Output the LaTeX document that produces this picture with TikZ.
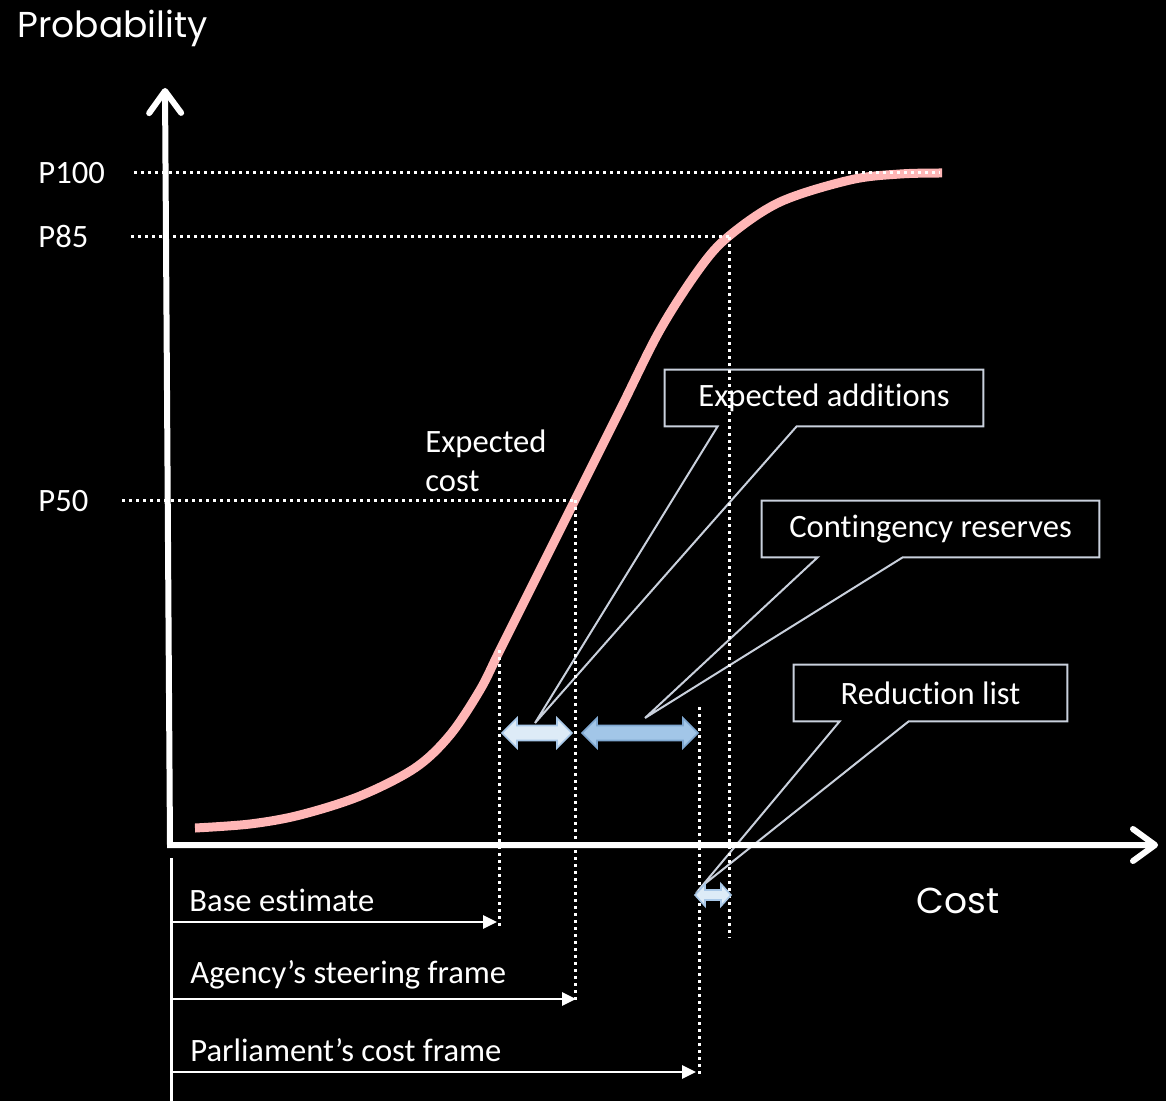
\documentclass[tikz,border=0pt]{standalone}
\usepackage{fontspec}
\setmainfont{Carlito}[Ligatures=NoCommon]
\newfontfamily\gothic{Poppins}
\usetikzlibrary{arrows.meta,calc}

\definecolor{curvepink}{HTML}{FFB6B6}
\definecolor{calloutedge}{HTML}{C9D0DC}
\definecolor{palefill}{HTML}{DDEBF7}
\definecolor{paleedge}{HTML}{A9C8E8}
\definecolor{midfill}{HTML}{A2C6E8}
\definecolor{midedge}{HTML}{7FA7D0}

\pgfdeclarelayer{background}
\pgfsetlayers{background,main}

% two-headed block arrow: style, left x, right x, y, head length, head half-height, shaft half-height
\newcommand\bidir[7]{%
  \filldraw[#1] (#2,#4) -- (#2+#5,#4-#6) -- (#2+#5,#4-#7) -- (#3-#5,#4-#7)
    -- (#3-#5,#4-#6) -- (#3,#4) -- (#3-#5,#4+#6) -- (#3-#5,#4+#7)
    -- (#2+#5,#4+#7) -- (#2+#5,#4+#6) -- cycle;}

\begin{document}
\begin{tikzpicture}[x=0.5pt,y=-0.5pt,
  every node/.style={text=white, font=\fontsize{16.3}{20}\selectfont, inner sep=0pt},
  axis/.style={white, line width=3pt, line join=miter,
    {Straight Barb[round,length=11pt,width=16pt]}-{Straight Barb[round,length=11pt,width=16pt]}},
  guide/.style={white, line width=1.5pt, dash pattern=on 1.5pt off 2pt},
  span/.style={white, line width=1.3pt, -{Triangle[length=7pt,width=6.5pt]}},
  callout/.style={draw=calloutedge, line width=1pt, fill=black, line join=miter},
  boxtext/.style={minimum height=28pt},
  pale/.style={fill=palefill, draw=paleedge, line width=0.8pt},
  mid/.style={fill=midfill, draw=midedge, line width=0.8pt},
]
\begin{pgfonlayer}{background}
\fill[black] (0,0) rectangle (1166,1101);
\end{pgfonlayer}
\useasboundingbox (0,0) rectangle (1166,1101);

% axes
\coordinate (origin) at (170,845);
\coordinate (ytip) at (165,88);
\coordinate (xtip) at (1158,845);
\draw[axis] (ytip) -- (origin) -- (xtip);
\node[anchor=base west, font=\gothic\fontsize{18}{22}\selectfont] (ylabel) at (17,38) {Probability};
\node[anchor=base west, font=\gothic\fontsize{18}{22}\selectfont] (xlabel) at (916,913) {Cost};

% cumulative cost curve
\draw[curvepink, line width=4.5pt] plot[smooth, tension=0.55] coordinates {
  (195,828) (250,824) (300,815) (360,796) (415,768) (450,735) (480,690)
  (499,652) (530,590) (575,500) (620,410) (660,330) (700,268) (729,236)
  (780,202) (850,180) (900,174) (942,173)};

% callout boxes with their pointers
\node[boxtext, minimum width=159pt] (addbox) at (824,398) {\raisebox{-1.5pt}{Expected additions}};
\node[boxtext, minimum width=168.5pt] (resbox) at (930.5,529) {\raisebox{-1.5pt}{Contingency reserves}};
\node[boxtext, minimum width=136.5pt] (redbox) at (930.5,693) {\raisebox{-0.5pt}{Reduction list}};
\coordinate (addtip) at (535,723);
\coordinate (restip) at (645,718);
\coordinate (redtip) at (702,886);

\begin{pgfonlayer}{background}
\fill[callout] (addbox.north west) -- (addbox.north east) -- (addbox.south east)
  -- ($(addbox.south west)+(132,0)$) -- (addtip) -- ($(addbox.south west)+(53,0)$)
  -- (addbox.south west) -- cycle;
\fill[callout] (resbox.north west) -- (resbox.north east) -- (resbox.south east)
  -- ($(resbox.south west)+(141,0)$) -- (restip) -- ($(resbox.south west)+(56,0)$)
  -- (resbox.south west) -- cycle;
\fill[callout] (redbox.north west) -- (redbox.north east) -- (redbox.south east)
  -- ($(redbox.south west)+(115,0)$) -- (redtip) -- ($(redbox.south west)+(46,0)$)
  -- (redbox.south west) -- cycle;
\end{pgfonlayer}

% probability levels
\node[anchor=base west] (p100) at (38,184) {P100};
\node[anchor=base west] (p85) at (38,248) {P85};
\node[anchor=base west] (p50) at (38,511) {P50};
\coordinate (c100) at (940,173);
\coordinate (c85) at (729,237);
\coordinate (c50) at (575,500);
\coordinate (cbase) at (499,650);
\draw[guide] (134,173) -- (c100);
\draw[guide] (131,237) -- (c85);
\draw[guide] (122,500) -- (c50);

\node[anchor=base west] (expcost) at (425,452) {Expected};
\node[anchor=base west] (expcost2) at (425,491) {cost};

% cost frames below the axis
\coordinate (ftop) at (171,858);
\coordinate (fbot) at (171,1101);
\draw[white, line width=1.5pt] (ftop) -- (fbot);
\coordinate (baseend) at (497,922);
\coordinate (agencyend) at (576,999);
\coordinate (parlend) at (696,1072);
\draw[span] (171,922) -- (baseend);
\draw[span] (171,999) -- (agencyend);
\draw[span] (171,1072) -- (parlend);
\node[anchor=base west] (basetxt) at (189,911) {Base estimate};
\node[anchor=base west] (agencytxt) at (190,983) {Agency’s steering frame};
\node[anchor=base west] (parltxt) at (190,1061) {Parliament’s cost frame};

% vertical cost markers
\draw[guide] (cbase) -- (499,928);
\draw[guide] (c50) -- (575,1003);
\draw[guide] (699,707) -- (699,1078);
\draw[guide] (c85) -- (729,938);

% range arrows
\bidir{pale}{502}{572}{733}{15}{15}{7.5}
\bidir{mid}{582}{698}{733}{15}{15}{7.5}
\bidir{pale}{695}{731}{895}{10}{11}{5}
\end{tikzpicture}
\end{document}
